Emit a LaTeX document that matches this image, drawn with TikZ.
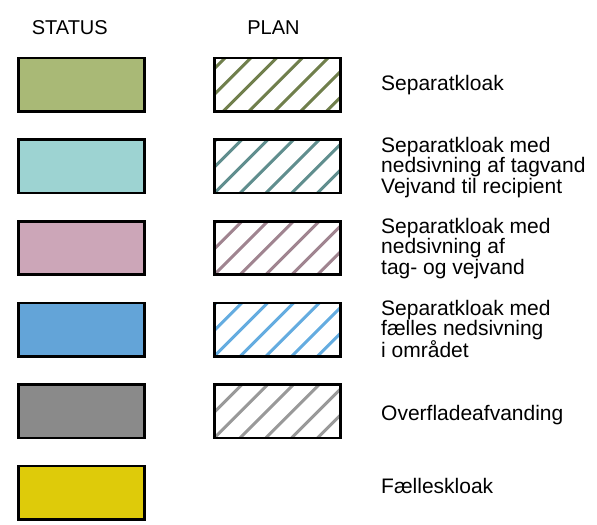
\documentclass[tikz,border=0pt]{standalone}
\usepackage{fontspec}
\setmainfont{Liberation Sans}
\definecolor{sepGreen}{RGB}{169,185,118}
\definecolor{sepGreenD}{RGB}{112,127,76}
\definecolor{sepTeal}{RGB}{157,211,210}
\definecolor{sepTealD}{RGB}{96,142,142}
\definecolor{sepPink}{RGB}{204,166,184}
\definecolor{sepPinkD}{RGB}{160,132,144}
\definecolor{sepBlue}{RGB}{99,164,216}
\definecolor{sepBlueD}{RGB}{100,172,224}
\definecolor{sepGray}{RGB}{138,138,138}
\definecolor{sepGrayD}{RGB}{153,153,153}
\definecolor{sepYellow}{RGB}{222,203,10}
\begin{document}
\begin{tikzpicture}[x=1bp,y=-1bp,
    status/.style={draw,line width=2.6bp,minimum width=126.5bp,minimum height=53.5bp,inner sep=0pt},
    plan/.style 2 args={status,path picture={
        \foreach \k in {-2,...,4}
            \draw[line width=3bp,#1] ([xshift=\k*25.8bp+#2]path picture bounding box.south west) -- ++(60bp,60bp);}},
    legendtext/.style={anchor=west,align=left,inner sep=0pt,font=\fontsize{21bp}{19.3bp}\selectfont},
    colhead/.style={anchor=base,inner sep=0pt,font=\fontsize{20bp}{20bp}\selectfont}]
    \useasboundingbox (0,0) rectangle (597,525);

    \node[colhead] (hstatus) at (69.8,34.7) {STATUS};
    \node[colhead] (hplan) at (273.5,34.7) {PLAN};

    %Separatkloak
    \node[status,fill=sepGreen] (s1) at (81.5,84.8) {};
    \node[plan={sepGreenD}{8.7bp}] (p1) at (277.5,84.8) {};
    \node[legendtext] (t1) at (381,85.5) {Separatkloak};

    %Separatkloak, tagvand
    \node[status,fill=sepTeal] (s2) at (81.5,166.4) {};
    \node[plan={sepTealD}{0bp}] (p2) at (277.5,166.4) {};
    \node[legendtext] (t2) at (381,167.5) {Separatkloak med\\nedsivning af tagvand\\Vejvand til recipient};

    %Separatkloak, tag- og vejvand
    \node[status,fill=sepPink] (s3) at (81.5,248) {};
    \node[plan={sepPinkD}{0bp}] (p3) at (277.5,248) {};
    \node[legendtext] (t3) at (381,248.5) {Separatkloak med\\nedsivning af\\tag- og vejvand};

    %Separatkloak, faelles nedsivning
    \node[status,fill=sepBlue] (s4) at (81.5,329.6) {};
    \node[plan={sepBlueD}{0bp}] (p4) at (277.5,329.6) {};
    \node[legendtext] (t4) at (381,329) {Separatkloak med\\fælles nedsivning\\i området};

    %Overfladeafvanding
    \node[status,fill=sepGray] (s5) at (81.5,411.2) {};
    \node[plan={sepGrayD}{0bp}] (p5) at (277.5,411.2) {};
    \node[legendtext] (t5) at (381,415) {Overfladeafvanding};

    %Faelleskloak
    \node[status,fill=sepYellow] (s6) at (81.5,492.8) {};
    \node[legendtext] (t6) at (381,485.6) {Fælleskloak};
\end{tikzpicture}
\end{document}
